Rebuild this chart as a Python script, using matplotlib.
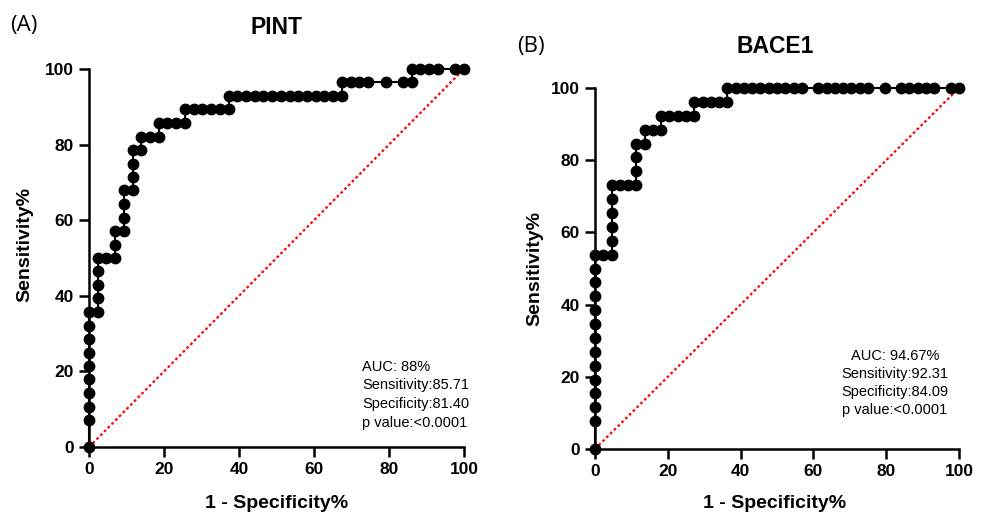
import numpy as np
import matplotlib
matplotlib.use('Agg')
import matplotlib.pyplot as plt

plt.rcParams['font.family'] = ['Liberation Sans', 'DejaVu Sans']

# PINT ROC points (1 - specificity %, sensitivity %)
pint_fpr = [0, 0, 0, 0, 0, 0, 0, 0, 0, 0,
            2.33, 2.33, 2.33, 2.33, 2.33, 4.65, 6.98, 6.98, 6.98, 9.30,
            9.30, 9.30, 9.30, 11.63, 11.63, 11.63, 11.63, 13.95, 13.95, 16.28,
            18.60, 18.60, 20.93, 23.26, 25.58, 25.58, 27.91, 30.23, 32.56, 34.88,
            37.21, 37.21, 39.53, 41.86, 44.19, 46.51, 48.84, 51.16, 53.49, 55.81,
            58.14, 60.47, 62.79, 65.12, 67.44, 67.44, 69.77, 72.09, 74.42, 79.07,
            83.72, 86.05, 86.05, 88.37, 90.70, 93.02, 97.67, 100]
pint_tpr = [0, 7.14, 10.71, 14.29, 17.86, 21.43, 25.00, 28.57, 32.14, 35.71,
            35.71, 39.29, 42.86, 46.43, 50.00, 50.00, 50.00, 53.57, 57.14, 57.14,
            60.71, 64.29, 67.86, 67.86, 71.43, 75.00, 78.57, 78.57, 82.14, 82.14,
            82.14, 85.71, 85.71, 85.71, 85.71, 89.29, 89.29, 89.29, 89.29, 89.29,
            89.29, 92.86, 92.86, 92.86, 92.86, 92.86, 92.86, 92.86, 92.86, 92.86,
            92.86, 92.86, 92.86, 92.86, 92.86, 96.43, 96.43, 96.43, 96.43, 96.43,
            96.43, 96.43, 100, 100, 100, 100, 100, 100]

# BACE1 ROC points
bace_fpr = [0, 0, 0, 0, 0, 0, 0, 0, 0, 0, 0, 0, 0, 0,
            2.27, 4.55, 4.55, 4.55, 4.55, 4.55, 4.55, 6.82, 9.09, 11.36,
            11.36, 11.36, 11.36, 13.64, 13.64, 15.91, 18.18, 18.18, 20.45, 22.73,
            25.00, 27.27, 27.27, 29.55, 31.82, 34.09, 36.36, 36.36, 38.64, 40.91,
            43.18, 45.45, 47.73, 50.00, 52.27, 54.55, 56.82, 61.36, 63.64, 65.91,
            68.18, 70.45, 72.73, 75.00, 79.55, 84.09, 86.36, 88.64, 90.91, 93.18,
            97.73, 100]
bace_tpr = [0, 7.69, 11.54, 15.38, 19.23, 23.08, 26.92, 30.77, 34.62, 38.46, 42.31, 46.15, 50.00, 53.85,
            53.85, 53.85, 57.69, 61.54, 65.38, 69.23, 73.08, 73.08, 73.08, 73.08,
            76.92, 80.77, 84.62, 84.62, 88.46, 88.46, 88.46, 92.31, 92.31, 92.31,
            92.31, 92.31, 96.15, 96.15, 96.15, 96.15, 96.15, 100, 100, 100,
            100, 100, 100, 100, 100, 100, 100, 100, 100, 100,
            100, 100, 100, 100, 100, 100, 100, 100, 100, 100,
            100, 100]

pint_text = ['AUC: 88%', 'Sensitivity:85.71', 'Specificity:81.40', 'p value:<0.0001']
bace_text = ['AUC: 94.67%', 'Sensitivity:92.31', 'Specificity:84.09', 'p value:<0.0001']

W, H = 983, 513
fig = plt.figure(figsize=(W / 100, H / 100), dpi=100)


def px_rect(x0, x1, y0, y1):
    # pixel box -> figure fraction
    return [x0 / W, 1 - y0 / H, (x1 - x0) / W, (y0 - y1) / H]


def roc_panel(rect, fpr, tpr, title, title_xy):
    ax = fig.add_axes(rect)
    ax.plot([0, 100], [0, 100], color='red', linestyle=(0, (1.2, 1.2)), linewidth=1.6, zorder=2)
    ax.plot(fpr, tpr, color='black', linewidth=1.5, marker='o', markersize=7.5,
            clip_on=False, zorder=3)
    ax.set_xlim(0, 100)
    ax.set_ylim(0, 100)
    ax.set_xticks(np.arange(0, 101, 20))
    ax.set_yticks(np.arange(0, 101, 20))
    for s in ['top', 'right']:
        ax.spines[s].set_visible(False)
    for s in ['left', 'bottom']:
        ax.spines[s].set_linewidth(1.8)
    ax.tick_params(width=1.8, length=7, labelsize=12.5, pad=4)
    for lab in ax.get_xticklabels() + ax.get_yticklabels():
        lab.set_fontweight('bold')
    fig.text(title_xy[0] / W, 1 - title_xy[1] / H, title, fontsize=16.5, fontweight='bold',
             ha='center', va='center')
    return ax


ax1 = roc_panel(px_rect(89, 464, 447, 69), pint_fpr, pint_tpr, 'PINT', (277, 28))
ax2 = roc_panel(px_rect(595, 959, 449, 88), bace_fpr, bace_tpr, 'BACE1', (775, 47))

fig.text(277 / W, 1 - 503 / H, '1 - Specificity%', fontsize=14, fontweight='bold', ha='center', va='center')
fig.text(775 / W, 1 - 503 / H, '1 - Specificity%', fontsize=14, fontweight='bold', ha='center', va='center')
fig.text(25 / W, 1 - 245 / H, 'Sensitivity%', fontsize=14, fontweight='bold', ha='center', va='center',
         rotation=90)
fig.text(535 / W, 1 - 268 / H, 'Sensitivity%', fontsize=14, fontweight='bold', ha='center', va='center',
         rotation=90)

fig.text(10 / W, 1 - 25 / H, '(A)', fontsize=16, ha='left', va='center', family=['Open Sans', 'DejaVu Sans'])
fig.text(517 / W, 1 - 47 / H, '(B)', fontsize=16, ha='left', va='center', family=['Open Sans', 'DejaVu Sans'])

for i, line in enumerate(pint_text):
    fig.text(362 / W, 1 - (367 + 18.5 * i) / H, line, fontsize=10.5, ha='left', va='center')
for i, line in enumerate(bace_text):
    fig.text(895 / W, 1 - (356 + 18 * i) / H, line, fontsize=10.5, ha='center', va='center')

fig.savefig('out.png', dpi=100)
